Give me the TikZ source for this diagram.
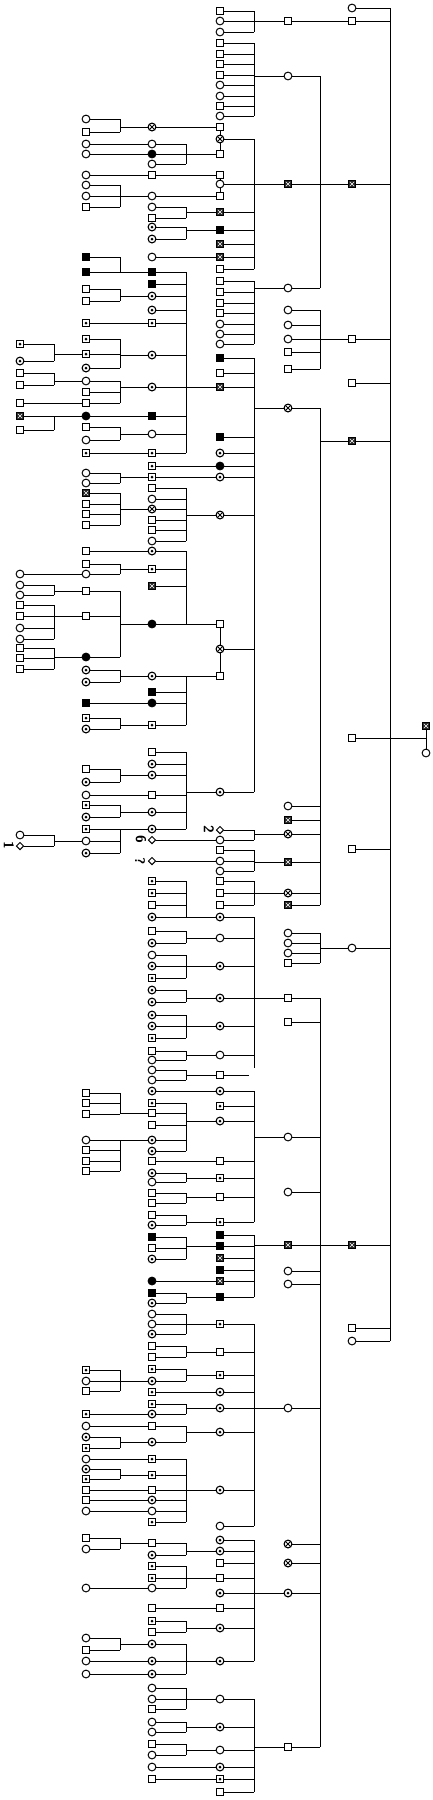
\documentclass[tikz,border=0pt]{standalone}
\usetikzlibrary{shapes.geometric}
\pgfdeclarelayer{bg}
\pgfsetlayers{bg,main}
\def\xA{20}\def\xB{86}\def\xC{152}\def\xD{220}\def\xE{288}\def\xF{352}\def\xG{426}
\newcommand\pcol[2]{\foreach \t/\y in {#2}{\edef\tmp{\noexpand\node[\t] (#1\y) at (\csname x#1\endcsname,\y) {};}\tmp}}
\newcommand\fmly[5]{\gdef\ffirst{}%
  \foreach \y in {#3}{\ifx\ffirst\empty\xdef\ffirst{\y}\fi\xdef\flast{\y}\draw (#1\y) -- (#2,\y);}%
  \draw (#2,\ffirst) -- (#2,\flast);
  \draw (#4#5) -- (#2,#5);}
\newcommand\lk[2]{\draw (#1) -- (#2);}
\tikzset{
  base/.style={draw, line width=1pt, inner sep=0pt, fill=white},
  sq/.style={base, rectangle, minimum size=7.5pt},
  ci/.style={base, circle, minimum size=7.8pt},
  sqf/.style={sq, fill=black},
  cif/.style={ci, fill=black},
  sqd/.style={sq, path picture={\fill[black] (path picture bounding box.center) circle (1.5pt);}},
  cid/.style={ci, line width=1.1pt, path picture={\fill[black] (path picture bounding box.center) circle (1.5pt);}},
  sqx/.style={sq, fill=black!85, path picture={\draw[white, line width=0.6pt]
     ([shift={(-2.2pt,-2.2pt)}]path picture bounding box.center) -- ([shift={(2.2pt,2.2pt)}]path picture bounding box.center)
     ([shift={(-2.2pt,2.2pt)}]path picture bounding box.center) -- ([shift={(2.2pt,-2.2pt)}]path picture bounding box.center);}},
  cix/.style={ci, line width=1.1pt, path picture={\draw[black, line width=0.9pt]
     ([shift={(-2.6pt,-2.6pt)}]path picture bounding box.center) -- ([shift={(2.6pt,2.6pt)}]path picture bounding box.center)
     ([shift={(-2.6pt,2.6pt)}]path picture bounding box.center) -- ([shift={(2.6pt,-2.6pt)}]path picture bounding box.center);}},
  dia/.style={base, diamond, minimum size=7.5pt},
  lab/.style={rotate=-90, font=\fontsize{14}{14}\selectfont\sffamily\bfseries, inner sep=0pt},
}
\begin{document}
\begin{tikzpicture}[x=1pt,y=-1pt]
\useasboundingbox (0,0) rectangle (433,1800);
\pcol{A}{sqd/344,cid/361,sq/373,sq/385,sq/403,sqx/416,sq/430,ci/574,ci/585,ci/595,sq/605,sq/616,ci/628,ci/639,sq/648,sq/658,sq/669,ci/835,dia/846}
\pcol{B}{ci/119,sq/132,ci/144,ci/154,ci/175,ci/185,ci/196,sq/207,sqf/257,sqf/272,sq/289,sq/301,sqd/323,sqd/339,sqd/354,cid/368,ci/381,sq/392,sq/403,cif/416,sq/427,ci/440,sqd/453,%
ci/473,ci/483,sqx/493,sq/504,sq/514,sq/525,sq/551,sq/564,ci/574,sq/591,sq/616,cif/657,cid/670,cid/682,sqf/703,sqd/718,cid/729,sq/769,cid/782,ci/795,sqd/805,cid/817,sqd/829,ci/841,cid/853,%
sq/1093,sq/1103,sq/1114,ci/1140,sq/1150,sq/1161,sq/1171,sqd/1370,ci/1381,sq/1391,sqd/1414,ci/1426,cid/1437,sqd/1448,ci/1459,cid/1469,sqd/1479,sq/1490,sq/1500,ci/1511,%
sq/1538,ci/1549,ci/1588,ci/1638,sq/1650,ci/1661,ci/1674}
\pcol{C}{cix/127,ci/144,cif/154,ci/164,sq/175,ci/196,ci/207,sq/218,cid/227,cid/239,ci/257,sqf/272,sqf/284,cid/296,cid/310,sqd/323,cid/355,cid/387,sqf/416,ci/434,sqd/453,%
sqd/466,sqd/477,sq/488,ci/499,cix/509,sq/520,sq/530,ci/541,cid/551,sqd/569,sqx/586,cif/624,cid/676,sqf/692,cif/703,sqd/725,%
sq/752,cid/764,cid/775,sq/795,cid/812,cid/829,dia/840,dia/861,sqd/881,sqd/893,sq/905,cid/917,sq/931,cid/943,ci/955,cid/966,sqd/978,cid/990,cid/1002,cid/1015,cid/1026,sqd/1038,%
sq/1051,ci/1060,ci/1070,ci/1080,cid/1091,sqd/1103,sq/1113,sq/1125,cid/1140,cid/1151,sq/1161,cid/1173,ci/1182,sq/1193,sq/1203,sq/1215,cid/1225,%
sqf/1237,sq/1248,cid/1259,cif/1281,sqf/1293,cid/1303,ci/1314,ci/1324,cid/1334,sq/1346,sq/1357,sqd/1369,cid/1381,sqd/1392,sqd/1404,cid/1414,sq/1426,cid/1442,%
sqd/1459,sqd/1475,sq/1490,cid/1500,ci/1511,sqd/1522,sq/1543,cid/1555,sqd/1566,sqd/1578,ci/1588,sq/1608,sqd/1621,sq/1632,cid/1644,cid/1661,cid/1674,%
ci/1688,ci/1699,sq/1709,ci/1722,ci/1732,sq/1744,ci/1755,ci/1767,sq/1779}
\pcol{D}{sq/11,ci/21,ci/32,sq/43,sq/54,sq/64,sq/75,ci/85,ci/96,sq/106,ci/116,sq/127,cix/139,sq/154,sq/175,ci/184,sq/196,sqx/212,sqf/230,sqx/244,sqx/257,sq/269,%
sq/281,sq/292,sq/303,sq/313,ci/324,ci/334,ci/344,sqf/358,sq/373,sqx/387,sqf/437,cid/453,cif/466,cid/477,cix/515,sq/624,cix/649,sq/676,cid/792,%
dia/830,ci/840,sq/850,ci/861,ci/871,sq/881,sq/893,sq/905,cid/917,ci/938,cid/966,cid/998,cid/1026,ci/1055,sq/1075,cid/1091,sqd/1106,cid/1121,sq/1161,sqd/1178,sq/1197,sqd/1222,%
sqf/1235,sqf/1246,sqx/1258,sqf/1270,sqx/1281,sqf/1297,sqd/1324,sq/1352,sqd/1375,cid/1392,cid/1408,cid/1432,cid/1490,ci/1526,%
cid/1540,cid/1551,sq/1563,sq/1578,cid/1593,sq/1608,cid/1628,cid/1661,ci/1699,cid/1727,ci/1750,cid/1767,sqd/1779,sq/1792}
\pcol{E}{sq/21,ci/76,sqx/184,ci/288,ci/310,ci/325,ci/339,sq/352,sq/369,cix/408,ci/806,sqx/820,cix/834,sqx/862,cix/893,sqx/905,ci/933,ci/943,ci/953,sq/963,%
sq/998,sq/1022,ci/1137,ci/1192,sqx/1245,ci/1271,ci/1284,ci/1408,cix/1544,cix/1563,cid/1593,sq/1747}
\pcol{F}{ci/8,sq/21,sqx/184,sq/339,sq/383,sqx/441,sq/738,sq/849,ci/948,sqx/1245,sq/1328,ci/1341}
\pcol{G}{sqx/726,ci/753}
\coordinate (G738) at (426,738);
\node[lab] (l1) at (9,845) {1};
\node[lab] (l2) at (209,829) {2};
\node[lab] (l6) at (141,839) {6};
\node[lab] (lq) at (140,861) {?};
\begin{pgfonlayer}{bg}
\begin{scope}[line width=0.9pt]
\fmly{D}{254}{11,21,32}{E}{21}
\fmly{D}{254}{43,54,64,75,85,96,106,116}{E}{76}
\fmly{E}{320}{76,184,288}{F}{184}
\fmly{B}{120}{119,132}{C}{127}
\fmly{D}{254}{139,184,212,230,244,257,269}{E}{184}
\fmly{C}{186}{144,154,164}{D}{154}
\fmly{B}{120}{185,196,207}{C}{196}
\fmly{C}{186}{207,218}{D}{212}
\fmly{C}{186}{227,239}{D}{230}
\fmly{B}{120}{257,272}{C}{272}
\fmly{B}{120}{289,301}{C}{296}
\fmly{A}{54}{344,361}{B}{354}
\fmly{B}{120}{339,354,368}{C}{355}
\fmly{A}{54}{373,385}{B}{381}
\fmly{B}{120}{381,392,403}{C}{387}
\fmly{A}{54}{416,430}{B}{416}
\fmly{B}{120}{427,440}{C}{434}
\fmly{C}{186}{272,284,296,310,323,355,387,416,434,453}{D}{387}
\fmly{D}{254}{281,292,303,313,324,334,344}{E}{288}
\fmly{E}{320}{310,325,339,352,369}{F}{339}
\fmly{D}{254}{358,373,387,437,453,466,477,515,649,792}{E}{408}
\fmly{E}{320}{408,806,820,834,862,893,905}{F}{441}
\fmly{B}{120}{473,483}{C}{477}
\fmly{B}{120}{493,504,514,525}{C}{509}
\fmly{C}{186}{488,499,509,520,530,541}{D}{515}
\fmly{B}{120}{564,574}{C}{569}
\fmly{A}{54}{585,595}{B}{591}
\fmly{A}{54}{605,616,628,639}{B}{616}
\fmly{A}{54}{648,658,669}{B}{657}
\fmly{B}{120}{591,616,657}{C}{624}
\fmly{C}{186}{551,569,586,624}{D}{624}
\fmly{B}{120}{670,682}{C}{676}
\fmly{B}{120}{718,729}{C}{725}
\fmly{C}{186}{676,692,703,725}{D}{676}
\fmly{F}{390}{8,21,184,339,383,441,738,849,948,1245,1328,1341}{G}{738}
\fmly{B}{120}{769,782}{C}{775}
\fmly{B}{120}{805,817}{C}{812}
\fmly{A}{54}{835,846}{B}{841}
\fmly{B}{120}{829,841,853}{C}{829}
\fmly{C}{186}{752,764,775,795,812,829}{D}{792}
\fmly{D}{254}{830,840}{E}{834}
\fmly{D}{254}{850,861,871}{E}{862}
\fmly{D}{254}{881,893,905}{E}{893}
\fmly{C}{186}{881,893,905,917}{D}{917}
\fmly{C}{186}{931,943}{D}{938}
\fmly{C}{186}{955,966,978}{D}{966}
\fmly{C}{186}{990,1002}{D}{998}
\fmly{C}{186}{1015,1026,1038}{D}{1026}
\fmly{C}{186}{1051,1060}{D}{1055}
\fmly{C}{186}{1070,1080}{D}{1075}
\draw (D1075) -- (249,1075);
\fmly{D}{254}{917,938,966,998,1026,1055}{E}{998}
\draw (254,1055) -- (254,1068);
\fmly{E}{320}{933,943,953,963}{F}{948}
\fmly{E}{320}{998,1022,1137,1192,1245,1271,1284,1408,1544,1563,1593,1747}{F}{1245}
\fmly{B}{120}{1093,1103,1114}{C}{1113}
\fmly{C}{186}{1103,1113,1125,1140,1151}{D}{1121}
\fmly{B}{120}{1140,1150,1161,1171}{C}{1140}
\fmly{C}{186}{1173,1182}{D}{1178}
\fmly{C}{186}{1193,1203}{D}{1197}
\fmly{C}{186}{1215,1225}{D}{1222}
\fmly{D}{254}{1091,1106,1121,1161,1178,1197,1222}{E}{1137}
\fmly{C}{186}{1237,1248,1259}{D}{1246}
\fmly{C}{186}{1293,1303}{D}{1297}
\fmly{D}{254}{1235,1246,1258,1270,1281,1297}{E}{1245}
\fmly{C}{186}{1314,1324,1334}{D}{1324}
\fmly{C}{186}{1346,1357}{D}{1352}
\fmly{B}{120}{1370,1381,1391}{C}{1381}
\fmly{C}{186}{1369,1381}{D}{1375}
\fmly{C}{186}{1404,1414}{D}{1408}
\fmly{B}{120}{1437,1448}{C}{1442}
\fmly{C}{186}{1426,1442}{D}{1432}
\fmly{B}{120}{1469,1479}{C}{1475}
\fmly{C}{186}{1459,1475,1490,1500,1511,1522}{D}{1490}
\fmly{D}{254}{1324,1352,1375,1392,1408,1432,1490,1526}{E}{1408}
\fmly{B}{120}{1538,1549}{C}{1543}
\fmly{C}{186}{1543,1555}{D}{1551}
\fmly{C}{186}{1566,1578,1588}{D}{1578}
\fmly{C}{186}{1621,1632}{D}{1628}
\fmly{B}{120}{1638,1650}{C}{1644}
\fmly{C}{186}{1644,1661,1674}{D}{1661}
\fmly{D}{254}{1540,1551,1563,1578,1593,1608,1628,1661}{E}{1593}
\fmly{C}{186}{1688,1699,1709}{D}{1699}
\fmly{C}{186}{1722,1732}{D}{1727}
\fmly{C}{186}{1744,1755}{D}{1750}
\fmly{D}{254}{1699,1727,1750,1767,1779,1792}{E}{1747}
\lk{E21}{F21}\lk{C127}{D127}\lk{B144}{C144}\lk{B154}{C154}\lk{B175}{C175}\lk{C175}{D175}
\lk{C196}{D196}\lk{C257}{D257}\lk{B323}{C323}\lk{A403}{B403}\lk{B416}{C416}\lk{B453}{C453}
\lk{C466}{D466}\lk{C477}{D477}\lk{B551}{C551}\lk{A574}{B574}\lk{B703}{C703}\lk{B795}{C795}
\lk{C840}{D840}\lk{C861}{D861}\lk{C1091}{D1091}\lk{C1161}{D1161}\lk{C1281}{D1281}\lk{C1392}{D1392}
\lk{B1414}{C1414}\lk{B1426}{C1426}\lk{B1459}{C1459}\lk{B1490}{C1490}\lk{B1500}{C1500}\lk{B1511}{C1511}
\lk{B1588}{C1588}\lk{C1608}{D1608}\lk{B1661}{C1661}\lk{B1674}{C1674}\lk{C1767}{D1767}\lk{C1779}{D1779}
\lk{G726}{G753}\lk{D127}{D154}\lk{D175}{D196}\lk{D624}{D676}
\end{scope}
\end{pgfonlayer}
\end{tikzpicture}
\end{document}
